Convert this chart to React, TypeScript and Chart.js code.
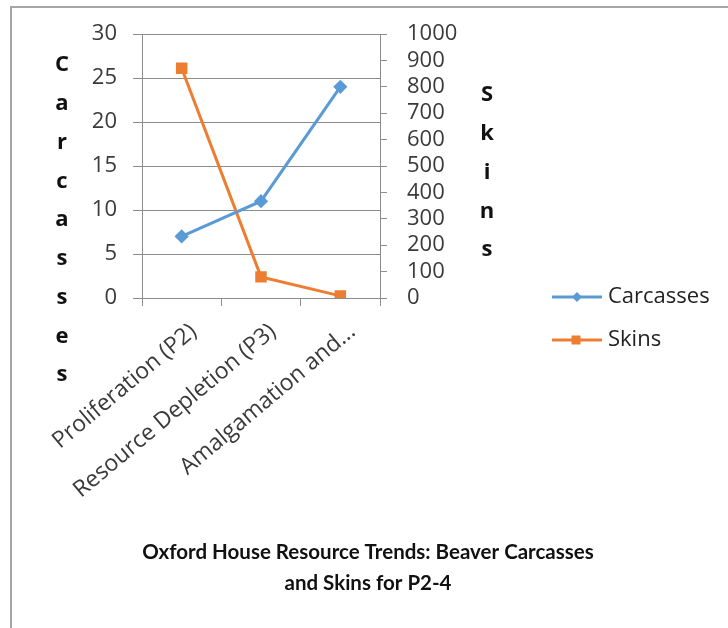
import React, { useEffect, useRef } from "react";
import { Chart, registerables } from "chart.js";

Chart.register(...registerables);

const categories = ["Proliferation (P2)", "Resource Depletion (P3)", "Amalgamation and..."];
const carcasses = [7, 11, 24];
const skins = [870, 80, 8];
const seriesNames = ["Carcasses", "Skins"];
const leftAxisTitle = "Carcasses";
const rightAxisTitle = "Skins";
const chartTitle = ["Oxford House Resource Trends: Beaver Carcasses", "and Skins for P2-4"];

const FONT = "'Open Sans', Lato, sans-serif";
const TITLE_FONT = "Lato, 'Open Sans', sans-serif";
const BLUE = "#5B9BD5";
const ORANGE = "#ED7D31";
const GRID = "#8c8c8c";
const TICK_COLOR = "#3a3a3a";

const overlay = {
  id: "overlay",
  beforeDraw(chart: any) {
    const ctx = chart.ctx;
    ctx.save();
    ctx.fillStyle = "#ffffff";
    ctx.fillRect(0, 0, chart.width, chart.height);
    ctx.strokeStyle = "#a6a6a6";
    ctx.lineWidth = 2;
    ctx.beginPath();
    ctx.moveTo(11, chart.height);
    ctx.lineTo(11, 7);
    ctx.lineTo(chart.width, 7);
    ctx.stroke();
    ctx.restore();
  },
  afterDraw(chart: any) {
    const ctx = chart.ctx;
    ctx.save();
    ctx.fillStyle = "#111";
    ctx.textAlign = "center";
    ctx.textBaseline = "middle";
    ctx.font = `bold 22px ${FONT}`;
    leftAxisTitle.split("").forEach((ch, i) => ctx.fillText(ch, 62, 65 + i * 38.75));
    rightAxisTitle.split("").forEach((ch, i) => ctx.fillText(ch, 487, 95 + i * 38.75));

    // legend
    chart.data.datasets.forEach((ds: any, i: number) => {
      const y = 297 + i * 43;
      ctx.strokeStyle = ds.borderColor;
      ctx.lineWidth = 3;
      ctx.beginPath();
      ctx.moveTo(552, y);
      ctx.lineTo(602, y);
      ctx.stroke();
      ctx.fillStyle = ds.backgroundColor;
      if (ds.pointStyle === "rect") {
        ctx.fillRect(576 - 4.5, y - 4.5, 9, 9);
      } else {
        ctx.beginPath();
        ctx.moveTo(577, y - 5);
        ctx.lineTo(582, y);
        ctx.lineTo(577, y + 5);
        ctx.lineTo(572, y);
        ctx.closePath();
        ctx.fill();
      }
      ctx.fillStyle = "#222";
      ctx.textAlign = "left";
      ctx.font = `22px ${FONT}`;
      ctx.fillText(ds.label, 608, y);
    });

    // title
    ctx.fillStyle = "#111";
    ctx.textAlign = "center";
    ctx.font = `bold 20.5px ${TITLE_FONT}`;
    chartTitle.forEach((line, i) => ctx.fillText(line, 368, 552 + i * 31));
    ctx.restore();
  },
};

export default function App() {
  const ref = useRef<HTMLCanvasElement>(null);
  useEffect(() => {
    if (!ref.current) return;
    const chart = new Chart(ref.current, {
      type: "line",
      data: {
        labels: categories,
        datasets: [
          {
            label: seriesNames[0],
            data: carcasses,
            yAxisID: "y",
            borderColor: BLUE,
            backgroundColor: BLUE,
            borderWidth: 3,
            pointStyle: "rectRot",
            pointRadius: 5,
            tension: 0,
          },
          {
            label: seriesNames[1],
            data: skins,
            yAxisID: "y1",
            borderColor: ORANGE,
            backgroundColor: ORANGE,
            borderWidth: 3,
            pointStyle: "rect",
            pointRadius: 6,
            tension: 0,
          },
        ],
      },
      options: {
        responsive: false,
        animation: false,
        layout: { padding: { top: 34, left: 0, right: 0, bottom: 0 } },
        plugins: {
          legend: { display: false },
          title: { display: false },
          tooltip: { enabled: false },
        },
        scales: {
          x: {
            type: "category",
            offset: true,
            grid: { offset: true, drawOnChartArea: false, drawTicks: true, tickLength: 8, color: GRID },
            border: { display: true, color: GRID, width: 1 },
            ticks: {
              minRotation: 40,
              maxRotation: 40,
              autoSkip: false,
              padding: 12,
              labelOffset: 12,
              color: TICK_COLOR,
              font: { family: FONT, size: 23 },
            },
            afterFit(s: any) {
              s.height = 330;
            },
          },
          y: {
            position: "left",
            min: 0,
            max: 30,
            ticks: { stepSize: 5, padding: 16, color: TICK_COLOR, font: { family: FONT, size: 22 } },
            grid: { color: GRID, tickLength: 9, drawTicks: true },
            border: { display: true, color: GRID, width: 1 },
            afterFit(s: any) {
              s.width = 142;
            },
          },
          y1: {
            position: "right",
            min: 0,
            max: 1000,
            ticks: {
              stepSize: 100,
              autoSkip: false,
              padding: 20,
              color: TICK_COLOR,
              font: { family: FONT, size: 22, lineHeight: 1 },
              callback: (v: any) => String(v),
            },
            grid: { drawOnChartArea: false, drawTicks: true, tickLength: 7, color: GRID },
            border: { display: true, color: GRID, width: 1 },
            afterFit(s: any) {
              s.width = 348;
            },
          },
        },
      },
      plugins: [overlay],
    });
    return () => chart.destroy();
  }, []);
  return (
    <div style={{ position: "absolute", left: 0, top: 0, width: 728, height: 628 }}>
      <canvas ref={ref} width={728} height={628} style={{ display: "block", width: 728, height: 628 }} />
    </div>
  );
}
